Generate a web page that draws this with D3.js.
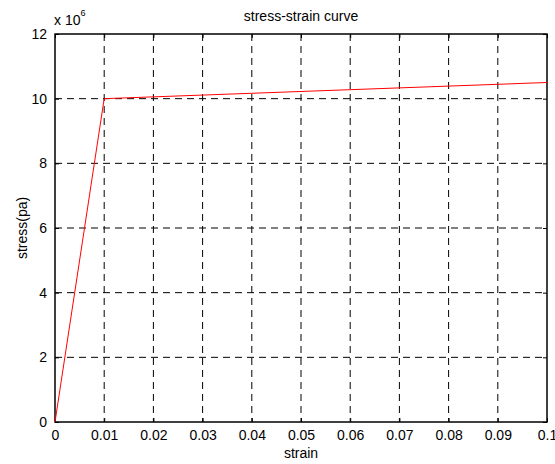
<!DOCTYPE html>
<html>
<head>
<meta charset="utf-8">
<script src="https://cdn.jsdelivr.net/npm/d3@7"></script>
<style>
  body { margin: 0; background: #fff; }
  text { font-family: "Liberation Sans", Arial, sans-serif; fill: #000; }
</style>
</head>
<body>
<div id="chart-area"></div>
<script>
// stress-strain data (x: strain, y: stress in pa)
var strain = [0, 0.01, 0.1];
var stress = [0, 10e6, 10.5e6];
var xTicks = [0, 0.01, 0.02, 0.03, 0.04, 0.05, 0.06, 0.07, 0.08, 0.09, 0.1];
var yTicks = [0, 2, 4, 6, 8, 10, 12]; // x 10^6

const W = 555, H = 464;
const MARGIN = { LEFT: 55, RIGHT: 8, TOP: 34, BOTTOM: 42 };
const WIDTH = W - MARGIN.LEFT - MARGIN.RIGHT;
const HEIGHT = H - MARGIN.TOP - MARGIN.BOTTOM;
const FS = "14px";

const svg = d3.select("#chart-area").append("svg")
  .attr("width", W)
  .attr("height", H);

const g = svg.append("g")
  .attr("transform", `translate(${MARGIN.LEFT}, ${MARGIN.TOP})`);

const x = d3.scaleLinear().domain([0, 0.1]).range([0, WIDTH]);
const y = d3.scaleLinear().domain([0, 12]).range([HEIGHT, 0]);

// grid
g.append("g").selectAll("line").data(xTicks.slice(1, -1)).enter().append("line")
  .attr("x1", d => x(d)).attr("x2", d => x(d))
  .attr("y1", 0).attr("y2", HEIGHT)
  .attr("stroke", "#000").attr("stroke-dasharray", "7,5");
g.append("g").selectAll("line").data(yTicks.slice(1, -1)).enter().append("line")
  .attr("y1", d => y(d)).attr("y2", d => y(d))
  .attr("x1", 0).attr("x2", WIDTH)
  .attr("stroke", "#000").attr("stroke-dasharray", "7,5");

// axes, ticks pointing inward
function styleAxis(sel) {
  sel.select(".domain").remove();
  sel.selectAll("text").attr("font-size", FS).attr("font-family", "Liberation Sans, Arial, sans-serif");
}
g.append("g").attr("transform", `translate(0, ${HEIGHT})`)
  .call(d3.axisBottom(x).tickValues(xTicks).tickSizeInner(-4).tickSizeOuter(0).tickPadding(8).tickFormat(d3.format("")))
  .call(styleAxis);
g.append("g")
  .call(d3.axisTop(x).tickValues(xTicks).tickSizeInner(-4).tickSizeOuter(0).tickFormat(""))
  .call(styleAxis);
g.append("g")
  .call(d3.axisLeft(y).tickValues(yTicks).tickSizeInner(-4).tickSizeOuter(0).tickPadding(8))
  .call(styleAxis);
g.append("g").attr("transform", `translate(${WIDTH}, 0)`)
  .call(d3.axisRight(y).tickValues(yTicks).tickSizeInner(-4).tickSizeOuter(0).tickFormat(""))
  .call(styleAxis);

// box
g.append("rect")
  .attr("width", WIDTH).attr("height", HEIGHT)
  .attr("fill", "none").attr("stroke", "#000").attr("stroke-width", 1.5);

// curve
const line = d3.line().x(d => x(d[0])).y(d => y(d[1] / 1e6));
g.append("path")
  .datum(d3.zip(strain, stress))
  .attr("d", line)
  .attr("fill", "none")
  .attr("stroke", "#ff0000")
  .attr("stroke-width", 1);

// title
svg.append("text")
  .attr("x", MARGIN.LEFT + WIDTH / 2)
  .attr("y", 21)
  .attr("font-size", FS)
  .attr("text-anchor", "middle")
  .text("stress-strain curve");

// exponent label
const ex = svg.append("text")
  .attr("x", 54)
  .attr("y", 25)
  .attr("font-size", FS);
ex.append("tspan").text("x 10");
ex.append("tspan").attr("font-size", "9px").attr("dy", -9).text("6");

// X label
svg.append("text")
  .attr("x", MARGIN.LEFT + WIDTH / 2)
  .attr("y", 458)
  .attr("font-size", FS)
  .attr("text-anchor", "middle")
  .text("strain");

// Y label
svg.append("text")
  .attr("x", -(MARGIN.TOP + HEIGHT / 2))
  .attr("y", 27)
  .attr("font-size", FS)
  .attr("text-anchor", "middle")
  .attr("transform", "rotate(-90)")
  .text("stress(pa)");
</script>
</body>
</html>
